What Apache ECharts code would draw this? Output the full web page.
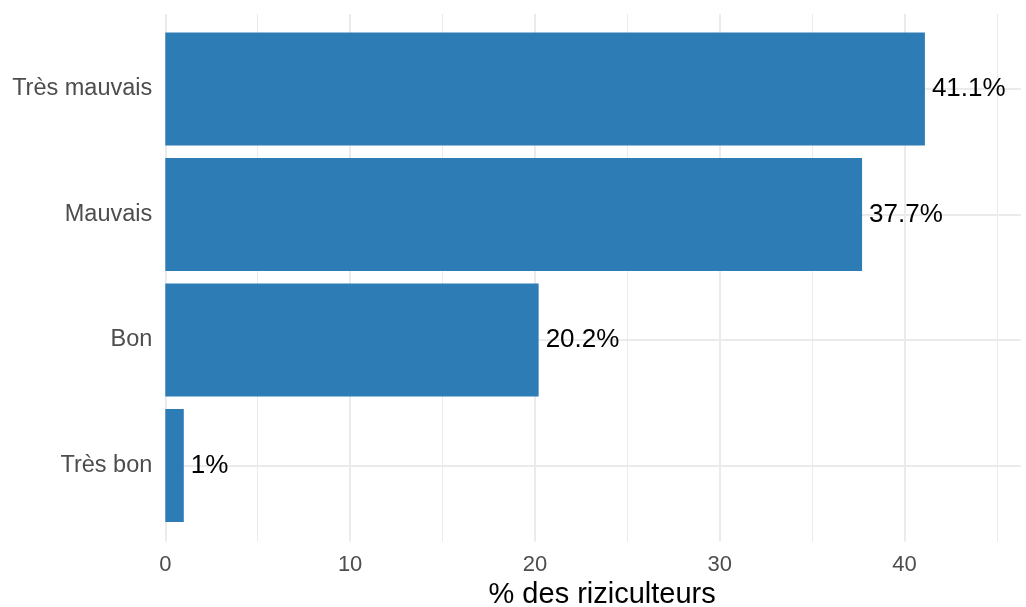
<!DOCTYPE html>
<html>
<head>
<meta charset="utf-8">
<script src="https://cdn.jsdelivr.net/npm/echarts@6/dist/echarts.min.js"></script>
<style>
html,body{margin:0;padding:0;background:#fff;}
#chart{width:1026px;height:607px;}
</style>
</head>
<body>
<div id="chart"></div>
<script>
const categories = ["Très mauvais", "Mauvais", "Bon", "Très bon"];
const values = [41.1, 37.7, 20.2, 1];
const labels = ["41.1%", "37.7%", "20.2%", "1%"];
const xTicks = [0, 10, 20, 30, 40];
const xTitle = "% des riziculteurs";

const FONT = "Liberation Sans, Arial, Helvetica, sans-serif";
const chart = echarts.init(document.getElementById('chart'), null, {renderer: 'canvas'});
const xMin = 0, xMax = 46.3;

chart.setOption({
  animation: false,
  backgroundColor: '#ffffff',
  grid: [
    {left: 165.3, right: 5, top: 14, bottom: 65.5, containLabel: false, outerBoundsMode: 'none'},
    {left: 165.3, right: 5, top: 26.25, bottom: 78.75, containLabel: false, outerBoundsMode: 'none'}
  ],
  xAxis: [
    {
      gridIndex: 0, type: 'value', min: xMin, max: xMax, interval: 10,
      axisLine: {show: false}, axisTick: {show: false},
      axisLabel: {
        color: '#4D4D4D', fontSize: 22, fontFamily: FONT, margin: 12,
        showMaxLabel: false,
        formatter: v => xTicks.indexOf(v) >= 0 ? String(v) : ''
      },
      splitLine: {show: true, showMaxLine: false, lineStyle: {color: '#EBEBEB', width: 2}},
      minorTick: {show: false, splitNumber: 2},
      minorSplitLine: {show: true, lineStyle: {color: '#EBEBEB', width: 1}},
      name: xTitle, nameLocation: 'middle', nameGap: 39,
      nameTextStyle: {color: '#000', fontSize: 29, fontFamily: FONT, padding: [0, 0, 0, 18]}
    },
    {
      gridIndex: 1, type: 'value', min: xMin, max: xMax, interval: 10, show: false
    }
  ],
  yAxis: [
    {gridIndex: 0, type: 'value', show: false},
    {
      gridIndex: 1, type: 'category', data: categories, inverse: true,
      axisLine: {show: false}, axisTick: {show: false},
      axisLabel: {color: '#4D4D4D', fontSize: 23.5, fontFamily: FONT, margin: 13, padding: [8, 0, 0, 0]},
      splitLine: {show: true, alignWithLabel: true, lineStyle: {color: '#EBEBEB', width: 2}}
    }
  ],
  series: [{
    type: 'bar', xAxisIndex: 1, yAxisIndex: 1,
    data: values, barWidth: '90%',
    itemStyle: {color: '#2E7CB5'},
    label: {
      show: true, position: 'right', distance: 7,
      color: '#000', fontSize: 26, fontFamily: FONT, padding: [8, 0, 0, 0],
      formatter: p => labels[p.dataIndex]
    }
  }]
});
</script>
</body>
</html>
